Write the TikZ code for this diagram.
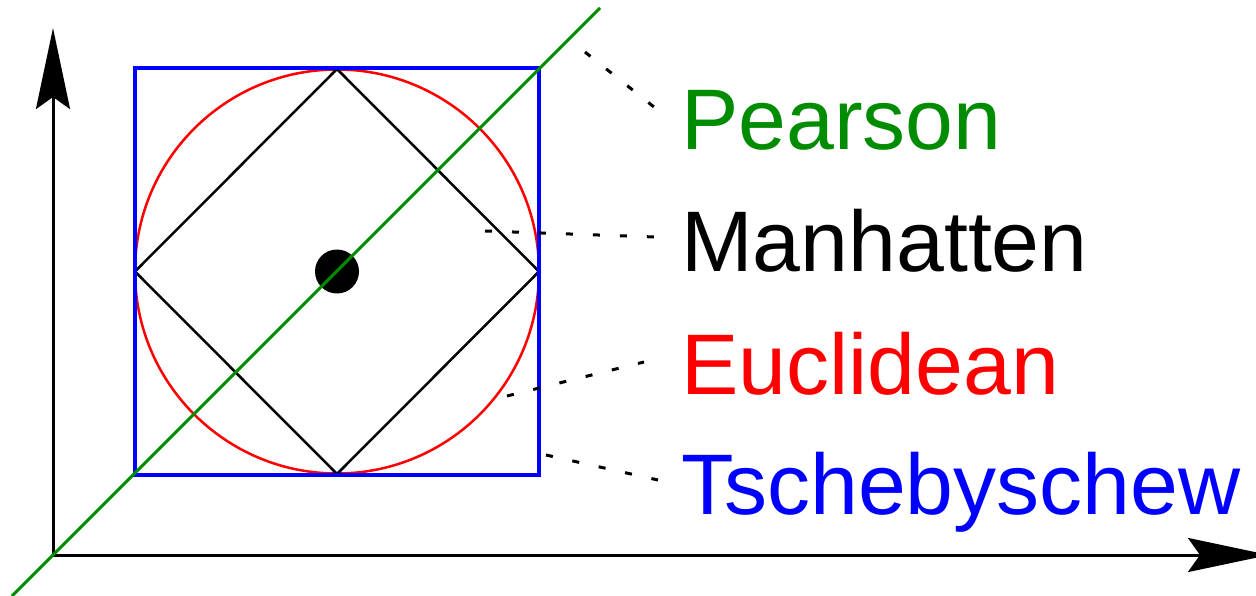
\documentclass[tikz,border=0pt]{standalone}
\usepackage{fontspec}
\setmainfont{Liberation Sans}
\usetikzlibrary{arrows.meta}
\definecolor{pgreen}{RGB}{0,140,0}
\begin{document}
\begin{tikzpicture}[x=1pt,y=-1pt,
  axis/.style={line width=3pt, -{Stealth[length=81pt,width=34pt,inset=12pt]}},
  lbl/.style={anchor=base west, inner sep=0pt, font=\fontsize{86}{100}\selectfont},
  leader/.style={line width=3pt, dash pattern=on 7pt off 20pt}]
\useasboundingbox (0,0) rectangle (1256,596);
% axes
\coordinate (O) at (53,555);
\coordinate (ytip) at (53,28);
\coordinate (xtip) at (1269,555);
\draw[axis] (O) -- (ytip);
\draw[axis] (O) -- (xtip);
% center
\coordinate (C) at (337,271.5);
% circle
\draw[red, line width=2.5pt] (C) circle[radius=202pt];
% diamond
\coordinate (dT) at (337,69);
\coordinate (dR) at (539,271.5);
\coordinate (dB) at (337,474);
\coordinate (dL) at (135,271.5);
\draw[line width=2.5pt, line join=miter] (dT) -- (dR) -- (dB) -- (dL) -- cycle;
% square
\draw[blue, line width=4pt] (135,68) rectangle (539,475);
% dot
\fill (C) circle[radius=22pt];
% Pearson line
\coordinate (g1) at (12,596);
\coordinate (g2) at (600,8);
\draw[pgreen, line width=3pt] (g1) -- (g2);
% labels
\node[lbl, text=pgreen] (pear) at (681,150) {Pearson};
\node[lbl, text=black] (manh) at (681,272) {Manhatten};
\node[lbl, text=red] (eucl) at (681,394) {Euclidean};
\node[lbl, text=blue] (tsch) at (681,514) {Tschebyschew};
% leaders
\coordinate (p1) at (585,52);  \coordinate (p2) at (654,107);
\coordinate (m1) at (485,231); \coordinate (m2) at (655,237);
\coordinate (e1) at (507,396); \coordinate (e2) at (644,362);
\coordinate (t1) at (546,455); \coordinate (t2) at (658,480);
\draw[leader] (p1) -- (p2);
\draw[leader] (m1) -- (m2);
\draw[leader] (e1) -- (e2);
\draw[leader] (t1) -- (t2);
\end{tikzpicture}
\end{document}
